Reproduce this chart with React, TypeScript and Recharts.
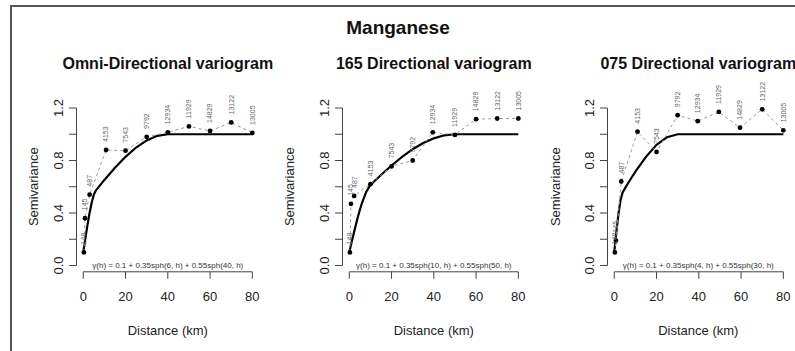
import React from "react";
import { ComposedChart, Line, XAxis, YAxis, ReferenceLine } from "recharts";

// experimental semivariance, one array per panel
const omniDist = [0.3, 0.8, 3, 10.8, 20, 30, 40, 50, 60, 70, 80];
const omniGamma = [0.1, 0.36, 0.54, 0.88, 0.875, 0.98, 1.015, 1.06, 1.025, 1.09, 1.01];
const dir165Dist = [0.3, 0.8, 2.3, 10, 20, 30, 39.5, 50, 60, 70, 80];
const dir165Gamma = [0.1, 0.47, 0.53, 0.62, 0.755, 0.8, 1.015, 0.995, 1.115, 1.12, 1.12];
const dir075Dist = [0.3, 0.8, 3.3, 11, 20, 30, 39.5, 49.5, 59.5, 70, 80];
const dir075Gamma = [0.1, 0.19, 0.64, 1.02, 0.865, 1.145, 1.1, 1.17, 1.05, 1.19, 1.03];

// number of pairs printed above each point
const pairCounts = [148, 145, 487, 4153, 7543, 9792, 12934, 11929, 14829, 13122, 13005];

// fitted model lines (solid)
const omniModelDist = [0, 1, 2, 3, 4, 5, 6, 10, 15, 20, 25, 30, 35, 40, 80];
const omniModelGamma = [0.1, 0.207, 0.31, 0.402, 0.48, 0.539, 0.573, 0.652, 0.745, 0.828, 0.899, 0.953, 0.988, 1, 1];
const dir165ModelDist = [0, 1, 2, 3, 4, 5, 6, 8, 10, 15, 20, 25, 30, 35, 40, 45, 50, 80];
const dir165ModelGamma = [0.1, 0.169, 0.237, 0.302, 0.365, 0.423, 0.476, 0.561, 0.613, 0.69, 0.762, 0.828, 0.886, 0.933, 0.969, 0.992, 1, 1];
const dir075ModelDist = [0, 1, 2, 3, 4, 5, 6, 8, 10, 15, 20, 25, 30, 80];
const dir075ModelGamma = [0.1, 0.256, 0.396, 0.502, 0.559, 0.586, 0.613, 0.665, 0.715, 0.828, 0.919, 0.978, 1, 1];

const panelTitles = ["Omni-Directional variogram", "165 Directional variogram", "075 Directional variogram"];
const formulas = [
  "\u03b3(h) = 0.1 + 0.35sph(6, h) + 0.55sph(40, h)",
  "\u03b3(h) = 0.1 + 0.35sph(10, h) + 0.55sph(50, h)",
  "\u03b3(h) = 0.1 + 0.35sph(4, h) + 0.55sph(30, h)",
];
const xTicks = [0, 20, 40, 60, 80];
const yTicks = [0, 0.2, 0.4, 0.6, 0.8, 1, 1.2];

const FONT = "'Liberation Sans', Arial, Helvetica, sans-serif";
const PANEL_W = 265;
const H = 351;
const panelLeft = [0, 266, 530.5];
const ylabX = [38, 28, 29];
const plotCenter = 167.8;

const zip = (d: number[], g: number[]) => d.map((v, i) => ({ d: v, g: g[i] }));

const YTick = (props: any) => {
  const { x, y, payload, index } = props;
  if (index % 2 === 1) return <g />;
  return (
    <text
      transform={`translate(${x},${y}) rotate(-90)`}
      textAnchor="middle"
      fontSize={13}
      fontFamily={FONT}
      fill="#222"
    >
      {payload.value.toFixed(1)}
    </text>
  );
};

const Dot = (props: any) => {
  const { cx, cy, index } = props;
  return <circle key={index} cx={cx} cy={cy} r={2.4} fill="#000" />;
};

const PairLabel = (props: any) => {
  const x = props.x ?? props.viewBox?.x;
  const y = props.y ?? props.viewBox?.y;
  const { index } = props;
  return (
    <text
      transform={`translate(${x + 2.4},${y - 8}) rotate(-90)`}
      textAnchor="start"
      fontSize={7}
      fontFamily={FONT}
      fill="#666"
    >
      {pairCounts[index]}
    </text>
  );
};

const Panel = ({ dist, gamma, mDist, mGamma, left }: any) => {
  const pts = zip(dist, gamma);
  const model = zip(mDist, mGamma);
  return (
    <div style={{ position: "absolute", left, top: 0 }}>
      <ComposedChart
        width={PANEL_W}
        height={H}
        margin={{ top: 101.7, right: 5.9, bottom: 39.2, left: 16.5 }}
      >
        <XAxis
          type="number"
          dataKey="d"
          domain={[-3.2, 83.2]}
          ticks={xTicks}
          interval={0}
          allowDataOverflow
          height={40}
          axisLine={false}
          tickSize={7}
          tickMargin={13}
          tickLine={{ stroke: "#444" }}
          tick={{ fontSize: 13, fill: "#222", fontFamily: FONT }}
        />
        <YAxis
          type="number"
          domain={[-0.048, 1.248]}
          ticks={yTicks}
          interval={0}
          allowDataOverflow
          width={60}
          axisLine={false}
          tickSize={7.5}
          tickMargin={6.5}
          tickLine={{ stroke: "#444" }}
          tick={<YTick />}
        />
        <ReferenceLine segment={[{ x: 0, y: -0.048 }, { x: 80, y: -0.048 }]} stroke="#444" ifOverflow="visible" />
        <ReferenceLine segment={[{ x: -3.2, y: 0 }, { x: -3.2, y: 1.2 }]} stroke="#444" ifOverflow="visible" />
        <Line
          data={model}
          dataKey="g"
          stroke="#000"
          strokeWidth={2.2}
          dot={false}
          isAnimationActive={false}
        />
        <Line
          data={pts}
          dataKey="g"
          stroke="#999"
          strokeWidth={1}
          strokeDasharray="3 3"
          dot={Dot}
          label={PairLabel}
          isAnimationActive={false}
        />
      </ComposedChart>
    </div>
  );
};

export default function App() {
  const series = [
    { dist: omniDist, gamma: omniGamma, mDist: omniModelDist, mGamma: omniModelGamma },
    { dist: dir165Dist, gamma: dir165Gamma, mDist: dir165ModelDist, mGamma: dir165ModelGamma },
    { dist: dir075Dist, gamma: dir075Gamma, mDist: dir075ModelDist, mGamma: dir075ModelGamma },
  ];
  return (
    <div style={{ position: "absolute", left: 0, top: 0, width: 795, height: H, background: "#fff", overflow: "hidden" }}>
      <div
        style={{
          position: "absolute",
          left: 10,
          top: 5,
          width: 800,
          height: 360,
          borderTop: "2px solid #555",
          borderLeft: "2px solid #555",
        }}
      />
      {series.map((s, i) => (
        <Panel key={i} {...s} left={panelLeft[i]} />
      ))}
      <svg width={795} height={H} style={{ position: "absolute", left: 0, top: 0, pointerEvents: "none" }} fontFamily={FONT}>
        <text x={398} y={34} textAnchor="middle" fontSize={19} fontWeight="bold" fill="#111">
          Manganese
        </text>
        {panelTitles.map((t, i) => {
          const cx = panelLeft[i] + plotCenter;
          return (
            <g key={t}>
              <text x={cx} y={68.7} textAnchor="middle" fontSize={16} fontWeight="bold" fill="#111">
                {t}
              </text>
              <text x={cx} y={334.7} textAnchor="middle" fontSize={13} fill="#222">
                Distance (km)
              </text>
              <text
                transform={`translate(${panelLeft[i] + ylabX[i]},186.7) rotate(-90)`}
                textAnchor="middle"
                fontSize={13}
                fill="#222"
              >
                Semivariance
              </text>
              <text x={cx} y={268} textAnchor="middle" fontSize={8} fill="#333">
                {formulas[i]}
              </text>
            </g>
          );
        })}
      </svg>
    </div>
  );
}
